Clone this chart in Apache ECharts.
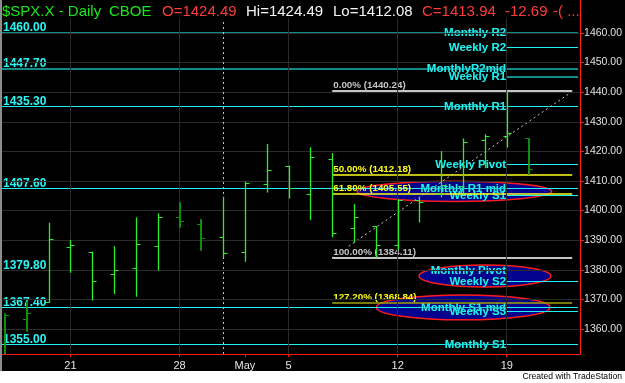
<!DOCTYPE html>
<html><head><meta charset="utf-8">
<script src="https://cdn.jsdelivr.net/npm/echarts@6/dist/echarts.min.js"></script>
<style>html,body{margin:0;padding:0;background:#000;}#c{width:625px;height:383px;}</style>
</head><body><div id="c"></div>
<script>
// ---- data ----
const dates = ['4/16','4/17','4/18','4/21','4/22','4/23','4/24','4/25','4/28','4/29','4/30','5/1','5/2','5/5','5/6','5/7','5/8','5/9','5/12','5/13','5/14','5/15','5/16','5/19','5/20'];
const opens  = [1336.0,1363.4,1369.0,1387.6,1386.1,1378.5,1380.5,1387.9,1398.0,1395.6,1391.0,1385.9,1409.1,1415.2,1405.5,1417.4,1394.2,1394.8,1388.5,1403.6,1405.7,1408.4,1423.9,1425.2,1424.49];
const highs  = [1365.3,1369.2,1395.9,1390.1,1386.1,1388.0,1397.7,1399.1,1402.8,1397.1,1404.7,1409.8,1422.5,1415.2,1421.4,1419.4,1402.2,1394.8,1403.9,1404.4,1420.1,1424.4,1425.8,1440.24,1424.49];
const lows   = [1336.0,1359.1,1368.9,1379.0,1369.6,1371.8,1370.9,1379.7,1394.2,1386.4,1384.1,1382.7,1406.1,1404.1,1396.8,1391.0,1389.2,1384.11,1386.8,1396.0,1404.5,1405.8,1414.3,1421.3,1412.08];
const closes = [1364.6,1365.5,1390.3,1388.4,1376.1,1379.9,1388.6,1397.7,1396.4,1390.8,1385.6,1409.2,1413.7,1407.5,1418.0,1392.3,1397.7,1388.3,1403.6,1403.0,1408.7,1423.3,1425.2,1426.3,1413.94];
const darkBars = [0,1,8,9,24];

const priceTicks = [1360,1370,1380,1390,1400,1410,1420,1430,1440,1450,1460];
const dateTickIdx = [3,8,11,13,18,23];
const dateTickLabels = ['21','28','May','5','12','19'];
const weekGridIdx = [3,8,13,18,23];
const monthSepIdx = 10;

const monthlyNames  = ['Monthly R2','MonthlyR2mid','Monthly R1','Monthly R1 mid','Monthly Pivot','Monthly S1 mid','Monthly S1'];
const monthlyValues = [1460.00,1447.70,1435.30,1407.60,1379.80,1367.40,1355.00];
const monthlyDark   = [true,true,false,false,false,false,false];
const weeklyNames   = ['Weekly R2','Weekly R1','Weekly Pivot','Weekly S1','Weekly S2','Weekly S3'];
const weeklyValues  = [1455.2,1445.2,1415.6,1405.3,1376.1,1366.0];
const weeklyDark    = [false,true,false,false,false,false];

const fibLabels = ['0.00%','50.00%','61.80%','100.00%','127.20%'];
const fibValues = [1440.24,1412.18,1405.55,1384.11,1368.84];
const fibKinds  = ['grey','yellow','yellow','grey','olive'];
const fibStartIdx = 15, fibEndIdx = 26;

// ellipse highlights: [center idx, center price, half width (idx), half height (price)]
const ellipseCx = [20.6, 22.0, 21.0];
const ellipseCy = [1406.5, 1377.9, 1367.3];
const ellipseHw = [4.46, 3.02, 3.98];
const ellipseHh = [3.4, 3.7, 4.2];

const headerTexts  = ['$SPX.X - Daily','CBOE','O=1424.49','Hi=1424.49','Lo=1412.08','C=1413.94','-12.69','-( ...'];
const headerColors = ['g','g','r','w','w','r','r','r'];
const headerX      = [2,109,162,246,333,422,505,553];

// ---- chart ----
const X_MIN = -0.137, X_MAX = 26.36, Y_MIN = 1351.55, Y_MAX = 1471.15;
const LABEL_END_IDX = 22.97, LINE_END_IDX = 26.27;
const chart = echarts.init(document.getElementById('c'), null, {renderer:'canvas'});
const FONT = "'Liberation Sans', Arial, sans-serif";
const CYAN = '#1ff0f0', TEAL = '#138a8a';
const HCOL = {g:'#19e619', r:'#ff3b3b', w:'#f4f4f4'};

function crisp(v){ return Math.round(v) + 0.5; }

const gridLines = priceTicks.map(v => [{coord:[X_MIN, v]},{coord:[X_MAX, v]}])
  .concat(weekGridIdx.map(i => [{coord:[i, Y_MIN]},{coord:[i, 1465]}]));

const graphics = [
  {type:'rect', left:0, top:0, shape:{width:2, height:371}, style:{fill:'#8c8c8c'}, z:100},
  {type:'rect', left:0, top:371, shape:{width:625, height:12}, style:{fill:'#ffffff'}, z:100},
  {type:'text', right:3, top:372, style:{text:'Created with TradeStation', fill:'#000', font:"8.6px " + FONT}, z:101}
].concat(headerTexts.map((t,i) => ({type:'text', left:headerX[i], top:4, z:101,
  style:{text:t, fill:HCOL[headerColors[i]], font:"15px " + FONT}})));

const option = {
  backgroundColor: '#000',
  animation: false,
  grid: {left: 2, right: 44, top: 0, bottom: 29},
  xAxis: {
    type: 'value', min: X_MIN, max: X_MAX,
    axisLine: {show:true, onZero:false, lineStyle:{color:'#ff1a1a', width:1}},
    axisTick: {show:true, length:3, customValues: dateTickIdx, lineStyle:{color:'#ff1a1a'}},
    axisLabel: {customValues: dateTickIdx, margin:6, color:'#e6e6e6', fontSize:11, fontFamily:FONT,
      formatter: v => dateTickLabels[dateTickIdx.indexOf(Math.round(v))] || ''},
    splitLine: {show:false}
  },
  yAxis: {
    type: 'value', position: 'right', min: Y_MIN, max: Y_MAX, scale: true,
    axisLine: {show:true, onZero:false, lineStyle:{color:'#ff1a1a', width:1}},
    axisTick: {show:true, length:4, customValues: priceTicks, lineStyle:{color:'#ff1a1a'}},
    axisLabel: {customValues: priceTicks, margin:4, color:'#e0e0e0', fontSize:10.5, fontFamily:FONT,
      formatter: v => v.toFixed(2)},
    splitLine: {show:false}
  },
  graphic: graphics,
  series: [
    { // grid lines + month separator
      type:'line', data:[], z:1, silent:true,
      markLine: {
        silent:true, symbol:['none','none'], label:{show:false},
        lineStyle:{color:'#2b2b2b', width:1, type:'solid'},
        data: gridLines.concat([[{coord:[monthSepIdx, Y_MIN], lineStyle:{color:'#c8c8a8', type:[2,3], width:1}},{coord:[monthSepIdx, 1464.7]}]])
      }
    },
    { // ellipses
      type:'custom', z:2, silent:true, clip:false,
      data: ellipseCx.map((c,i) => [c, ellipseCy[i]]),
      encode:{x:0, y:1},
      renderItem(params, api){
        const i = params.dataIndex;
        const c = api.coord([ellipseCx[i], ellipseCy[i]]);
        const sz = api.size([ellipseHw[i], ellipseHh[i]]);
        return {type:'ellipse', shape:{cx:c[0], cy:c[1], rx:sz[0], ry:sz[1]},
          style:{fill:'#02028e', stroke:'#ff1c1c', lineWidth:1.5}};
      }
    },
    { // monthly levels
      type:'custom', z:3, silent:true, clip:false,
      data: monthlyValues.map(v => [X_MIN, v]), encode:{x:0, y:1},
      renderItem(params, api){
        const i = params.dataIndex;
        const p0 = api.coord([X_MIN, monthlyValues[i]]);
        const p1 = api.coord([LINE_END_IDX, monthlyValues[i]]);
        const pl = api.coord([LABEL_END_IDX, monthlyValues[i]]);
        const y = monthlyDark[i] ? Math.round(p0[1]) : crisp(p0[1]);
        return {type:'group', children:[
          {type:'line', shape:{x1:p0[0], y1:y, x2:p1[0], y2:y}, style:{stroke: monthlyDark[i]?TEAL:CYAN, lineWidth: monthlyDark[i]?2:1}},
          {type:'text', z2:10, style:{text: monthlyValues[i].toFixed(2), x:3, y:y+1, align:'left', verticalAlign:'bottom', fill:'#2ef5f5', font:"bold 12px " + FONT}},
          {type:'text', z2:10, style:{text: monthlyNames[i], x:pl[0], y:y, align:'right', verticalAlign:'middle', fill:'#22f0f0', font:"bold 11.5px " + FONT, textShadowColor:'#003333', textShadowBlur:1}}
        ]};
      }
    },
    { // weekly levels
      type:'custom', z:3, silent:true, clip:false,
      data: weeklyValues.map(v => [LABEL_END_IDX, v]), encode:{x:0, y:1},
      renderItem(params, api){
        const i = params.dataIndex;
        const p0 = api.coord([LABEL_END_IDX, weeklyValues[i]]);
        const p1 = api.coord([LINE_END_IDX, weeklyValues[i]]);
        const y = weeklyDark[i] ? Math.round(p0[1]) : crisp(p0[1]);
        return {type:'group', children:[
          {type:'line', shape:{x1:p0[0], y1:y, x2:p1[0], y2:y}, style:{stroke: weeklyDark[i]?TEAL:CYAN, lineWidth: weeklyDark[i]?2:1}},
          {type:'text', z2:10, style:{text: weeklyNames[i], x:p0[0], y:y, align:'right', verticalAlign:'middle', fill:'#22f0f0', font:"bold 11.5px " + FONT, textShadowColor:'#003333', textShadowBlur:1}}
        ]};
      }
    },
    { // fib trend (dotted)
      type:'line', z:4, silent:true, symbol:'none',
      data: [[fibStartIdx, fibValues[3]], [fibEndIdx, fibValues[0]]],
      lineStyle:{color:'#c8c8c8', width:1, type:[2,3]}
    },
    { // fib levels
      type:'custom', z:4, silent:true, clip:false,
      data: fibValues.map(v => [fibStartIdx, v]), encode:{x:0, y:1},
      renderItem(params, api){
        const i = params.dataIndex;
        const p0 = api.coord([fibStartIdx, fibValues[i]]);
        const p1 = api.coord([fibEndIdx, fibValues[i]]);
        const k = fibKinds[i];
        const lc = k==='grey' ? '#c4c4c4' : (k==='yellow' ? '#ffff1a' : '#a3a300');
        const tc = k==='grey' ? '#c4c4c4' : '#ffff1a';
        const y = Math.round(p0[1]);
        return {type:'group', children:[
          {type:'line', shape:{x1:p0[0], y1:y, x2:p1[0], y2:y}, style:{stroke:lc, lineWidth: k==='grey'?2:1.5}},
          {type:'text', z2:10, style:{text: fibLabels[i] + ' (' + fibValues[i].toFixed(2) + ')', x:p0[0]+1, y:y-1, align:'left', verticalAlign:'bottom', fill:tc, font:"bold 9.8px " + FONT,
            backgroundColor: i===3 ? '#000' : null}}
        ]};
      }
    },
    { // OHLC bars
      type:'custom', z:5, silent:true, clip:true,
      data: dates.map((d,i) => [i, opens[i], highs[i], lows[i], closes[i]]),
      encode:{x:0, y:[1,2,3,4]},
      renderItem(params, api){
        const i = params.dataIndex;
        const dark = darkBars.indexOf(i) >= 0;
        const col = dark ? '#0d8f0d' : '#2cee2c';
        const w = dark ? 2 : 1.3;
        const ph = api.coord([i, highs[i]]), pl = api.coord([i, lows[i]]);
        const yo = crisp(api.coord([i, opens[i]])[1]), yc = crisp(api.coord([i, closes[i]])[1]);
        const x = dark ? Math.round(ph[0]) : crisp(ph[0]);
        const st = {stroke:col, lineWidth:w};
        return {type:'group', children:[
          {type:'line', shape:{x1:x, y1:ph[1], x2:x, y2:pl[1]}, style:st},
          {type:'line', shape:{x1:x-4, y1:yo, x2:x, y2:yo}, style:{stroke:col, lineWidth:1}},
          {type:'line', shape:{x1:x, y1:yc, x2:x+4, y2:yc}, style:{stroke:col, lineWidth:1}}
        ]};
      },
      markLine: {
        silent:true, symbol:['none','none'],
        lineStyle:{opacity:0},
        label:{show:true, position:'end', distance:1, formatter: p => p.value.toFixed(2),
          backgroundColor:'#00ff00', color:'#000', fontSize:11, fontFamily:FONT, padding:[2,2,1,3]},
        data:[{yAxis: closes[closes.length-1]}]
      }
    }
  ]
};
chart.setOption(option);
</script>
</body></html>
